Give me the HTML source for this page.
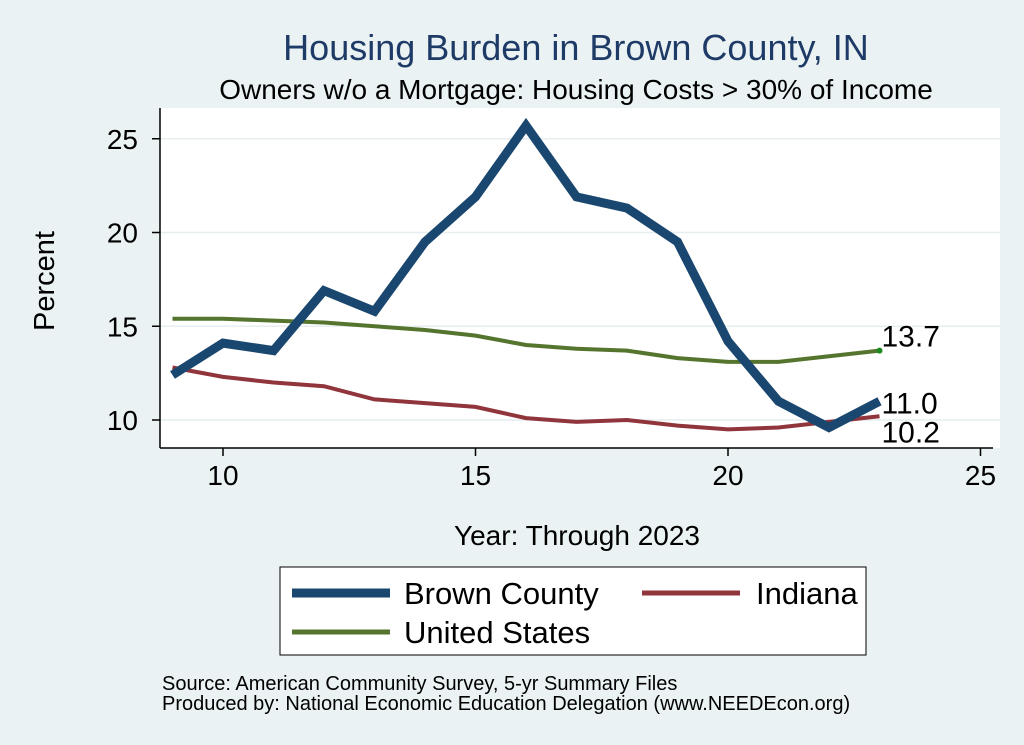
<!DOCTYPE html>
<html><head><meta charset="utf-8"><style>
body{margin:0;background:#eaf2f3;}
svg{display:block;font-family:"Liberation Sans",Arial,sans-serif;}
</style></head><body>
<svg width="1024" height="745" viewBox="0 0 1024 745">
<rect x="0" y="0" width="1024" height="745" fill="#eaf2f3"/>
<text x="576" y="60" font-size="36" fill="#1e3a66" text-anchor="middle">Housing Burden in Brown County, IN</text>
<text x="576" y="99" font-size="28" fill="#000" text-anchor="middle">Owners w/o a Mortgage: Housing Costs &gt; 30% of Income</text>
<rect x="160" y="108" width="840" height="340" fill="#fff"/>
<g id="grid"></g>
<line x1="160" y1="108" x2="160" y2="448" stroke="#000" stroke-width="1.5"/>
<line x1="160" y1="448" x2="993" y2="448" stroke="#000" stroke-width="1.5"/>
<g id="ticks"></g>
<g id="series"></g>
<text x="54" y="281" font-size="29" text-anchor="middle" transform="rotate(-90 54 281)">Percent</text>
<text x="577" y="545" font-size="28" text-anchor="middle">Year: Through 2023</text>
<g>
<rect x="280" y="567" width="586" height="88" fill="#fff" stroke="#000" stroke-width="1"/>
<line x1="292" y1="593" x2="390" y2="593" stroke="#1a476f" stroke-width="9"/>
<text x="404" y="604" font-size="31">Brown County</text>
<line x1="642" y1="593" x2="740" y2="593" stroke="#90353b" stroke-width="5"/>
<text x="756" y="604" font-size="31">Indiana</text>
<line x1="292" y1="632" x2="390" y2="632" stroke="#55752f" stroke-width="5"/>
<text x="404" y="643" font-size="31">United States</text>
</g>
<text x="162" y="690" font-size="20">Source: American Community Survey, 5-yr Summary Files</text>
<text x="162" y="710" font-size="20">Produced by: National Economic Education Delegation (www.NEEDEcon.org)</text>
</svg>
<script>
const years=[9,10,11,12,13,14,15,16,17,18,19,20,21,22,23];
const brown=[12.4,14.1,13.7,16.9,15.8,19.5,21.9,25.7,21.9,21.3,19.5,14.2,11.0,9.6,11.0];
const indiana=[12.8,12.3,12.0,11.8,11.1,10.9,10.7,10.1,9.9,10.0,9.7,9.5,9.6,9.9,10.2];
const us=[15.4,15.4,15.3,15.2,15.0,14.8,14.5,14.0,13.8,13.7,13.3,13.1,13.1,13.4,13.7];
const xTicks=[10,15,20,25];
const yTicks=[10,15,20,25];
const NS="http://www.w3.org/2000/svg";
function sx(v){return 223+(v-10)*50.5;}
function sy(v){return 420-(v-10)*18.75;}
function mk(t,a,p){const e=document.createElementNS(NS,t);for(const k in a)e.setAttribute(k,a[k]);p.appendChild(e);return e;}
const grid=document.getElementById('grid'),ticks=document.getElementById('ticks'),ser=document.getElementById('series');
yTicks.forEach(v=>{
 const g=mk('line',{x1:160,x2:1000,y1:sy(v),y2:sy(v),stroke:'#e6eeef','stroke-width':1.5},grid);
 
 
 const t=mk('line',{x1:152,x2:160,y1:sy(v),y2:sy(v),stroke:'#000','stroke-width':1.5},ticks);
 
 
 const l=mk('text',{x:138,y:sy(v)+10,'font-size':28,'text-anchor':'end'},ticks);l.textContent=v;
 
 
});
xTicks.forEach(v=>{
 const t=mk('line',{x1:sx(v),x2:sx(v),y1:448,y2:456,stroke:'#000','stroke-width':1.5},ticks);
 
 
 const l=mk('text',{x:sx(v),y:485,'font-size':28,'text-anchor':'middle'},ticks);l.textContent=v;
 
 
});
function line(vals,col,w,name){
 const d=vals.map((v,i)=>(i?'L':'M')+sx(years[i])+','+sy(v)).join(' ');
 const p=mk('path',{d:d,fill:'none',stroke:col,'stroke-width':w,'stroke-linejoin':'miter'},ser);
 
 
}
line(us,'#55752f',4,'us-line');
line(indiana,'#90353b',4,'indiana-line');
line(brown,'#1a476f',9,'brown-county-line');
const n=years.length-1;
const dot=mk('circle',{cx:sx(years[n]),cy:sy(us[n]),r:3,fill:'#1a8a1a'},ser);


[[us,-8,'us-end-label'],[brown,8,'brown-end-label'],[indiana,22,'indiana-end-label']].forEach(([a,dy,nm])=>{
 const t=mk('text',{x:sx(years[n])+2,y:sy(a[n])+dy+4,'font-size':30},ser);
 t.textContent=a[n].toFixed(1);
 
 
});
</script>
</body></html>
